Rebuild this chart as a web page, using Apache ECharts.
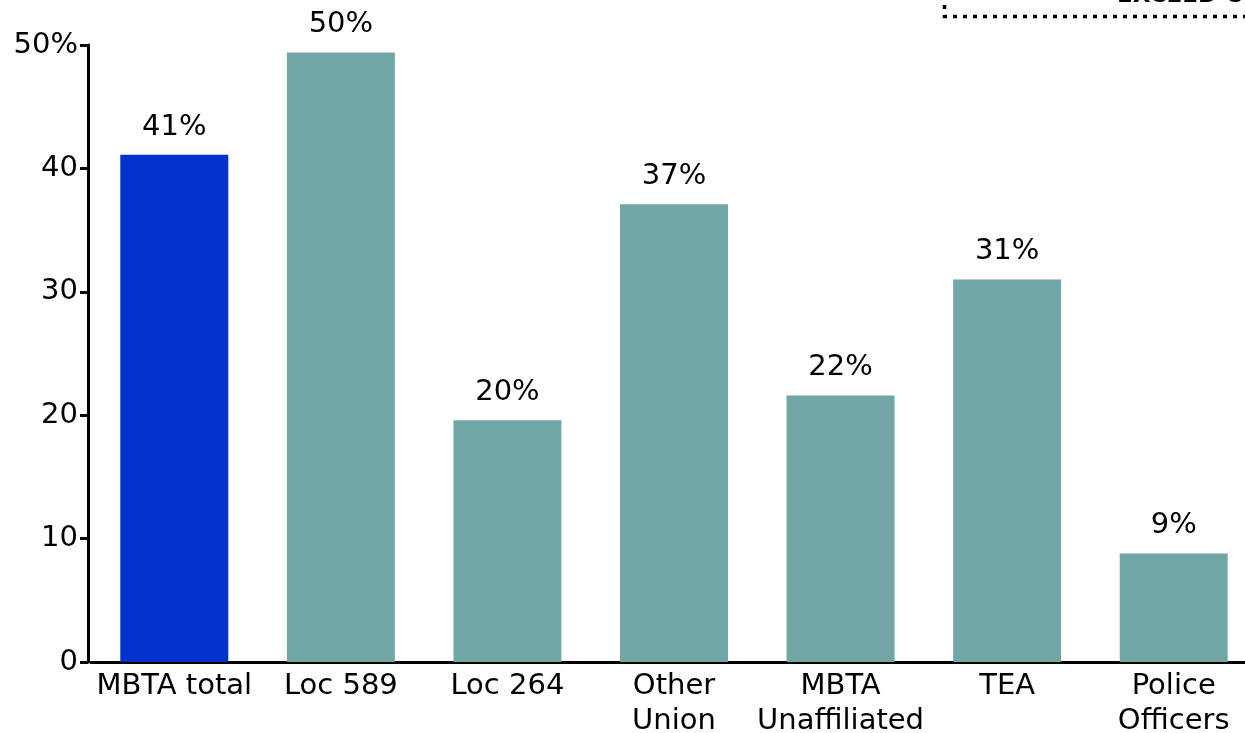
<!DOCTYPE html>
<html>
<head>
<meta charset="utf-8">
<script src="https://cdn.jsdelivr.net/npm/echarts@6/dist/echarts.min.js"></script>
<style>html,body{margin:0;padding:0;background:#fff;overflow:hidden;}#c{width:1245px;height:733px;}</style>
</head>
<body>
<div id="c"></div>
<script>
const categories = ['MBTA total', 'Loc 589', 'Loc 264', 'Other\nUnion', 'MBTA\nUnaffiliated', 'TEA', 'Police\nOfficers'];
const values = [41.1, 49.4, 19.6, 37.1, 21.6, 31.0, 8.8];
const valueLabels = ['41%', '50%', '20%', '37%', '22%', '31%', '9%'];
const yTicks = ['0', '10', '20', '30', '40', '50%'];

const FONT = 'DejaVu Sans';
const chart = echarts.init(document.getElementById('c'), null, {renderer: 'canvas'});
chart.setOption({
  animation: false,
  grid: {left: 91, right: -12, top: 45, bottom: 71, containLabel: false, outerBoundsMode: 'none'},
  xAxis: {
    type: 'category',
    data: categories,
    axisLine: {lineStyle: {color: '#000', width: 3}},
    axisTick: {show: false},
    axisLabel: {color: '#000', fontFamily: FONT, fontSize: 29, lineHeight: 35, margin: 7, interval: 0}
  },
  yAxis: {
    type: 'value', min: 0, max: 50, interval: 10, offset: 3,
    axisLine: {show: true, lineStyle: {color: '#000', width: 3}},
    axisTick: {show: true, length: 8, lineStyle: {color: '#000', width: 3}},
    splitLine: {show: false},
    axisLabel: {color: '#000', fontFamily: FONT, fontSize: 29, margin: 10,
      formatter: (v) => yTicks[Math.round(v / 10)]}
  },
  series: [{
    type: 'bar',
    data: values.map((v, i) => ({value: v, itemStyle: {color: i === 0 ? '#0033CC' : '#72A6A6'}})),
    barWidth: 108,
    label: {show: true, position: 'top', distance: 13, color: '#000', fontFamily: FONT, fontSize: 29,
      formatter: (p) => valueLabels[p.dataIndex]}
  }],
  graphic: [
    {type: 'text', style: {x: 1117, y: -3.5, verticalAlign: 'middle', text: 'EXCEED C', font: 'bold 23px "DejaVu Sans"', fill: '#000'}},
    {type: 'polyline', shape: {points: [[944.5, 5], [944.5, 16.5], [1245, 16.5]]},
      style: {stroke: '#000', lineWidth: 3.5, lineDash: [4, 6], fill: null}}
  ]
});
</script>
</body>
</html>
